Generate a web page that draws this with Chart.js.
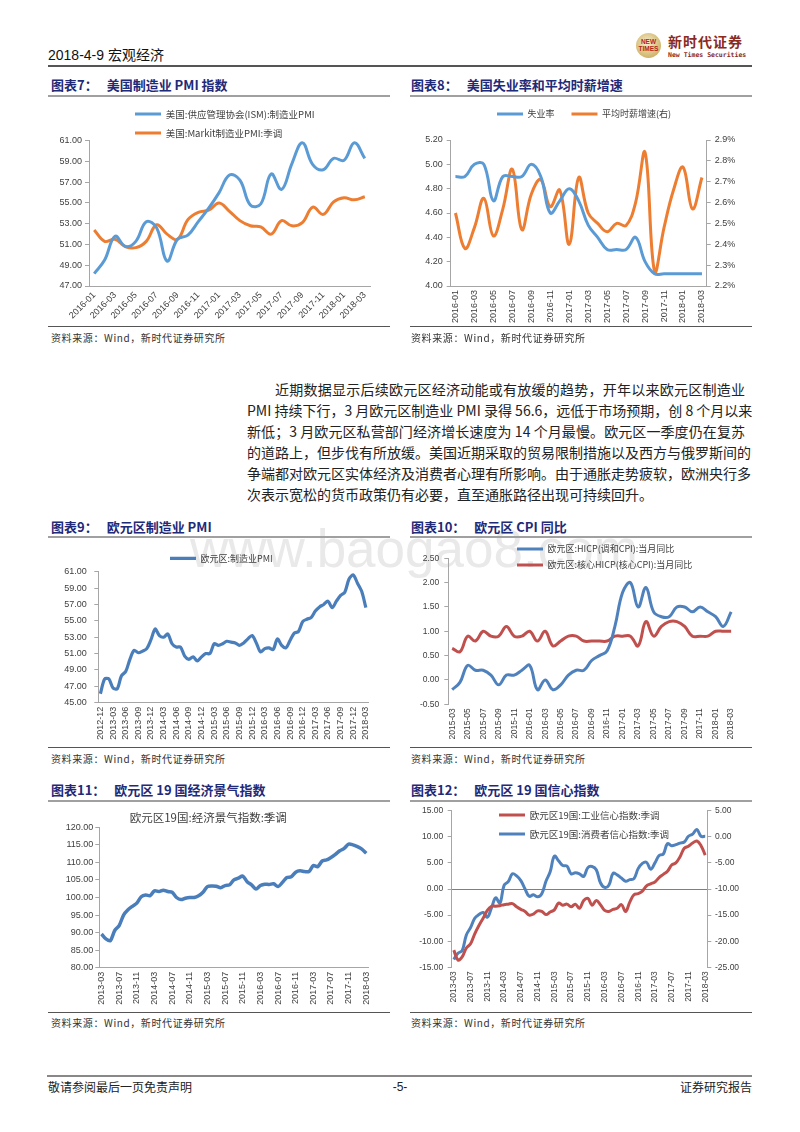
<!DOCTYPE html>
<html lang="zh">
<head>
  <meta charset="UTF-8">
  <title>2018-4-9 宏观经济</title>
  <style>
    body {
      margin: 0;
      background: #fff;
      font-family: "Noto Sans CJK SC", sans-serif;
      color: #222;
    }
    .page { position: relative; width: 800px; height: 1132px; overflow: hidden; }
    .abs { position: absolute; }
    .hd { left: 48px; top: 46px; font-size: 14px; line-height: 18px; font-family: "Liberation Sans", "Noto Sans CJK SC", sans-serif; color: #111; }
    .rule { position: absolute; height: 2px; background: #a0a0a0; }
    .thin { position: absolute; height: 1px; background: #555; }
    .ttl { position: absolute; font-size: 13px; line-height: 16px; font-weight: 700; color: #1f2a78; white-space: nowrap; }
    .ttl span { margin-left: 9px; }
    .src { position: absolute; font-size: 10px; line-height: 12px; color: #333; letter-spacing: 0.6px; white-space: nowrap; }
    .box { position: absolute; }
    .wm { position: absolute; left: 190px; top: 522px; font-family: "Liberation Sans", Arial, sans-serif; font-size: 53px; line-height: 53px; color: #e9e9e9; white-space: nowrap; }
    .para { position: absolute; left: 247px; top: 379px; width: 498px; font-size: 14px; line-height: 21px; color: #222; }
    .para div { white-space: nowrap; text-align: justify; text-align-last: justify; }
    .para div.first { padding-left: 28px; }
    .para div.last { text-align: left; text-align-last: left; }
    .logo { position: absolute; left: 636px; top: 33px; width: 25px; height: 25px; border-radius: 50%;
      background: radial-gradient(circle at 45% 40%, #f6efcf, #d1b56c 70%, #b8964a); }
    .logo b { position: absolute; left: 0; width: 25px; text-align: center; font-family: "Liberation Sans", sans-serif; font-size: 6.5px; line-height: 7px; color: #b3261e; }
    .ft { position: absolute; top: 1080px; font-size: 12px; line-height: 14px; color: #222; }
  </style>
</head>
<body>
<div class="page">
  <div class="wm">www.baogao8.com</div>

  <div class="abs hd">2018-4-9 宏观经济</div>
  <div class="logo"><b style="top:5px">NEW</b><b style="top:12px">TIMES</b></div>
  <div class="abs" style="left:668px; top:33px; font-size:14px; line-height:16px; font-weight:700; color:#8b2a20; letter-spacing:1px;">新时代证券</div>
  <div class="abs" style="left:668px; top:51px; font-size:6.5px; line-height:8px; font-weight:700; color:#8b2a20; font-family:'DejaVu Sans Mono', monospace;">New Times Securities</div>
  <div class="abs" style="left:48px; top:65px; width:704px; height:2px; background:#555;"></div>

  <!-- row 1 -->
  <div class="ttl" style="left:51px; top:77px;">图表7：<span>美国制造业 PMI 指数</span></div>
  <div class="ttl" style="left:411px; top:77px;">图表8：<span>美国失业率和平均时薪增速</span></div>
  <div class="rule" style="left:48px; top:95px; width:342px;"></div>
  <div class="rule" style="left:410px; top:95px; width:342px;"></div>
  <div class="box" style="left:48px; top:90px; width:342px; height:236px;"><canvas id="c7"></canvas></div>
  <div class="box" style="left:410px; top:90px; width:342px; height:240px;"><canvas id="c8"></canvas></div>
  <div class="thin" style="left:48px; top:326px; width:342px;"></div>
  <div class="thin" style="left:410px; top:326px; width:342px;"></div>
  <div class="src" style="left:51px; top:332px;">资料来源：Wind，新时代证券研究所</div>
  <div class="src" style="left:411px; top:332px;">资料来源：Wind，新时代证券研究所</div>

  <div class="para">
    <div class="first">近期数据显示后续欧元区经济动能或有放缓的趋势，开年以来欧元区制造业</div>
    <div>PMI 持续下行，3 月欧元区制造业 PMI 录得 56.6，远低于市场预期，创 8 个月以来</div>
    <div>新低；3 月欧元区私营部门经济增长速度为 14 个月最慢。欧元区一季度仍在复苏</div>
    <div>的道路上，但步伐有所放缓。美国近期采取的贸易限制措施以及西方与俄罗斯间的</div>
    <div>争端都对欧元区实体经济及消费者心理有所影响。由于通胀走势疲软，欧洲央行多</div>
    <div class="last">次表示宽松的货币政策仍有必要，直至通胀路径出现可持续回升。</div>
  </div>

  <!-- row 2 -->
  <div class="ttl" style="left:51px; top:519px;">图表9：<span>欧元区制造业 PMI</span></div>
  <div class="ttl" style="left:411px; top:519px;">图表10：<span>欧元区 CPI 同比</span></div>
  <div class="rule" style="left:48px; top:536px; width:342px;"></div>
  <div class="rule" style="left:410px; top:536px; width:342px;"></div>
  <div class="box" style="left:48px; top:540px; width:342px; height:206px;"><canvas id="c9"></canvas></div>
  <div class="box" style="left:410px; top:540px; width:342px; height:206px;"><canvas id="c10"></canvas></div>
  <div class="thin" style="left:48px; top:747px; width:342px;"></div>
  <div class="thin" style="left:410px; top:747px; width:342px;"></div>
  <div class="src" style="left:51px; top:753px;">资料来源：Wind，新时代证券研究所</div>
  <div class="src" style="left:411px; top:753px;">资料来源：Wind，新时代证券研究所</div>

  <!-- row 3 -->
  <div class="ttl" style="left:51px; top:782px;">图表11：<span>欧元区 19 国经济景气指数</span></div>
  <div class="ttl" style="left:411px; top:782px;">图表12：<span>欧元区 19 国信心指数</span></div>
  <div class="rule" style="left:48px; top:800px; width:342px;"></div>
  <div class="rule" style="left:410px; top:800px; width:342px;"></div>
  <div class="box" style="left:48px; top:800px; width:342px; height:212px;"><canvas id="c11"></canvas></div>
  <div class="box" style="left:410px; top:800px; width:342px; height:212px;"><canvas id="c12"></canvas></div>
  <div class="thin" style="left:48px; top:1012px; width:342px;"></div>
  <div class="thin" style="left:410px; top:1012px; width:342px;"></div>
  <div class="src" style="left:51px; top:1017px;">资料来源：Wind，新时代证券研究所</div>
  <div class="src" style="left:411px; top:1017px;">资料来源：Wind，新时代证券研究所</div>

  <div class="abs" style="left:47px; top:1075px; width:705px; height:1.5px; background:#888;"></div>
  <div class="ft" style="left:48px;">敬请参阅最后一页免责声明</div>
  <div class="ft" style="left:388px; width:24px; text-align:center; font-family:'Liberation Sans', sans-serif;">-5-</div>
  <div class="ft" style="left:652px; width:100px; text-align:right;">证券研究报告</div>
</div>

<script src="https://cdn.jsdelivr.net/npm/chart.js"></script>
<script>
  // 图表7 美国制造业PMI (2016-01 ~ 2018-03)
  var ismPmi = [48.2, 49.5, 51.8, 50.8, 51.3, 53.2, 52.6, 49.4, 51.5, 51.9, 53.2, 54.5,
    56.0, 57.7, 57.2, 54.8, 54.9, 57.8, 56.3, 58.8, 60.8, 58.7, 58.2, 59.3, 59.1, 60.8, 59.3];
  var markitPmi = [52.4, 51.3, 51.5, 50.8, 50.7, 51.3, 52.9, 52.0, 51.5, 53.4, 54.1, 54.3,
    55.0, 54.2, 53.3, 52.8, 52.7, 52.0, 53.3, 52.8, 53.1, 54.6, 53.9, 55.1, 55.5, 55.3, 55.6];

  // 图表8 失业率 / 平均时薪增速(右)
  var unemployment = [4.9, 4.9, 5.0, 5.0, 4.7, 4.9, 4.9, 4.9, 5.0, 4.9, 4.6, 4.7,
    4.8, 4.7, 4.5, 4.4, 4.3, 4.3, 4.3, 4.4, 4.2, 4.1, 4.1, 4.1, 4.1, 4.1, 4.1];
  var wageGrowth = [2.55, 2.38, 2.48, 2.62, 2.44, 2.57, 2.76, 2.47, 2.64, 2.71, 2.58, 2.66,
    2.40, 2.72, 2.55, 2.50, 2.46, 2.50, 2.49, 2.60, 2.84, 2.27, 2.48, 2.66, 2.77, 2.57, 2.72];

  // 图表9 欧元区制造业PMI (2012-12 ~ 2018-03)
  var ezPmi = [46.1,
    47.9, 47.9, 46.8, 46.7, 48.3, 48.8, 50.3, 51.4, 51.1, 51.3, 51.6, 52.7,
    54.0, 53.2, 53.0, 53.4, 52.2, 51.8, 51.8, 50.7, 50.3, 50.6, 50.1, 50.6,
    51.0, 51.0, 52.2, 52.0, 52.2, 52.5, 52.4, 52.3, 52.0, 52.3, 52.8, 53.2,
    52.3, 51.2, 51.6, 51.7, 51.5, 52.8, 52.0, 51.7, 52.6, 53.5, 53.7, 54.9,
    55.2, 55.4, 56.2, 56.7, 57.0, 57.4, 56.6, 57.4, 58.1, 58.5, 60.1, 60.6,
    59.6, 58.6, 56.6];

  // 图表10 欧元区CPI同比 (2015-03 ~ 2018-03)
  var hicp = [-0.2, -0.05, 0.3, 0.2, 0.2, 0.1, -0.1, 0.1, 0.1, 0.2,
    0.3, -0.2, 0.0, -0.2, -0.1, 0.1, 0.2, 0.2, 0.4, 0.5, 0.6, 1.1,
    1.8, 2.0, 1.5, 1.9, 1.4, 1.3, 1.3, 1.5, 1.5, 1.4, 1.5, 1.4,
    1.3, 1.1, 1.4];
  var coreHicp = [0.65, 0.58, 0.9, 0.8, 1.0, 0.9, 0.9, 1.1, 0.9, 0.9,
    1.0, 0.8, 1.0, 0.7, 0.8, 0.9, 0.9, 0.8, 0.8, 0.8, 0.8, 0.9,
    0.9, 0.9, 0.7, 1.2, 0.9, 1.1, 1.2, 1.2, 1.1, 0.9, 0.9, 0.9,
    1.0, 1.0, 1.0];

  // 图表11 经济景气指数 (2013-03 ~ 2018-03)
  var esi = [89.6, 88.2, 87.7, 90.6, 92.0, 95.0, 96.5, 97.5, 98.4, 100.2,
    100.7, 100.5, 101.9, 101.7, 102.1, 101.7, 101.5, 100.0, 99.4, 99.8, 100.0, 100.0,
    100.5, 101.5, 103.1, 103.3, 103.2, 102.8, 103.4, 103.6, 105.0, 105.5, 106.1, 104.5,
    103.6, 102.4, 103.4, 103.8, 103.7, 103.9, 103.1, 104.3, 105.7, 105.9, 107.2, 107.6,
    107.4, 107.4, 109.1, 108.8, 110.4, 110.7, 111.4, 112.3, 113.3, 114.0, 115.2, 115.0,
    114.5, 113.8, 112.6];

  // 图表12 工业信心(左) / 消费者信心(右)
  var industryConf = [-11.7, -13.6, -13.0, -11.3, -10.5, -8.6, -7.0, -5.6, -4.1, -3.3,
    -3.3, -3.2, -3.0, -2.9, -2.8, -3.4, -3.9, -4.3, -5.0, -4.8, -4.2, -4.3,
    -4.9, -4.4, -4.0, -2.7, -3.1, -2.9, -3.4, -2.9, -3.7, -2.2, -1.8, -3.1,
    -2.2, -3.0, -4.1, -4.3, -3.9, -3.7, -3.0, -4.3, -2.5, -1.1, -0.9, -0.4,
    0.6, 1.0, 1.35, 2.2, 2.8, 3.4, 4.6, 5.0, 6.2, 7.8, 8.2, 8.8,
    9.2, 8.3, 6.5];
  var consumerConf = [-23.5, -22.3, -21.8, -18.8, -17.4, -15.6, -14.9, -14.5, -15.4, -13.6,
    -11.7, -12.7, -9.3, -8.6, -7.1, -7.5, -8.4, -10.0, -11.4, -11.1, -11.5, -10.9,
    -8.5, -6.7, -3.7, -4.6, -5.5, -5.6, -7.1, -6.9, -7.1, -7.6, -5.9, -5.7,
    -6.3, -8.8, -9.7, -9.3, -7.0, -7.3, -7.9, -8.5, -8.2, -8.0, -6.1, -5.1,
    -4.9, -6.2, -5.0, -3.6, -3.3, -1.3, -1.7, -1.5, -1.2, -1.0, 0.1, 0.5,
    1.4, 0.1, 0.1];

  function months(year, month, n) {
    var out = [];
    for (var i = 0; i < n; i++) {
      var k = month - 1 + i;
      var m = k % 12 + 1;
      out.push((year + Math.floor(k / 12)) + '-' + (m < 10 ? '0' : '') + m);
    }
    return out;
  }
  var usMonths = months(2016, 1, 27);
  var pmiMonths = months(2012, 12, 64);
  var cpiMonths = months(2015, 3, 37);
  var confMonths = months(2013, 3, 61);

  var NUM_FONT = '"Liberation Sans", Arial, sans-serif';
  var CJK_FONT = '"Noto Sans CJK SC", sans-serif';
  var AXIS = '#a6a6a6';
  var TXT = '#404040';

  // moves the legend to a fixed spot (x = left of first marker, y = centre of first row)
  var legendPos = {
    id: 'legendPos',
    afterLayout: function (chart, args, o) {
      var lg = chart.legend;
      if (!lg || o.x === undefined) return;
      var pad = lg.options.labels.padding;
      var dx = o.x - (lg.left + pad);
      var dy = o.y - (lg.top + pad + o.fs / 2);
      lg.left += dx; lg.right += dx;
      lg.top += dy; lg.bottom += dy;
    }
  };
  Chart.register(legendPos);

  function yAxis(pos, min, max, step, width, pad, fs, fmt) {
    return {
      position: pos, min: min, max: max,
      border: { display: true, color: AXIS },
      grid: { drawOnChartArea: false, tickLength: 4, color: AXIS },
      ticks: { stepSize: step, color: TXT, padding: pad, font: { family: NUM_FONT, size: fs }, callback: fmt },
      afterFit: function (s) { s.width = width; }
    };
  }

  function xAxis(every, rot, height, fs, border) {
    return {
      offset: true,
      border: { display: border, color: AXIS },
      grid: { display: false, drawTicks: false },
      ticks: {
        autoSkip: false, minRotation: rot, maxRotation: rot, padding: 4,
        color: TXT, font: { family: NUM_FONT, size: fs },
        callback: function (v, i) { return i % every === 0 ? this.getLabelForValue(v) : ''; }
      },
      afterFit: function (s) { s.height = height; }
    };
  }

  function line(label, data, color, width, axis, tension) {
    return {
      label: label, data: data, yAxisID: axis || 'y',
      borderColor: color, backgroundColor: color, borderWidth: width,
      pointRadius: 0, tension: tension === undefined ? 0.4 : tension
    };
  }

  function legend(position, fs, pad, x, y) {
    return {
      legend: {
        position: position, align: 'start', fullSize: false,
        labels: { boxWidth: 26, boxHeight: 0, padding: pad, color: TXT, font: { family: CJK_FONT, size: fs } }
      },
      legendPos: { x: x, y: y, fs: fs },
      tooltip: { enabled: false }
    };
  }

  function f2(v) { return v.toFixed(2); }

  function make(id, config) {
    config.options.responsive = true;
    config.options.maintainAspectRatio = false;
    config.options.animation = false;
    return new Chart(document.getElementById(id), config);
  }

  // 图表7
  make('c7', {
    type: 'line',
    data: {
      labels: usMonths,
      datasets: [
        line('美国:供应管理协会(ISM):制造业PMI', ismPmi, '#5b9bd5', 3),
        line('美国:Markit制造业PMI:季调', markitPmi, '#ed7d31', 3)
      ]
    },
    options: {
      layout: { padding: { top: 50.7, right: 20, bottom: 0, left: 0 } },
      scales: {
        x: xAxis(2, 45, 40, 9, true),
        y: yAxis('left', 47, 61, 2, 41, 3, 9, f2)
      },
      plugins: legend('chartArea', 9.5, 9.5, 87, 24)
    }
  });

  // 图表8
  make('c8', {
    type: 'line',
    data: {
      labels: usMonths,
      datasets: [
        line('失业率', unemployment, '#5b9bd5', 3),
        line('平均时薪增速(右)', wageGrowth, '#ed7d31', 3, 'y1')
      ]
    },
    options: {
      layout: { padding: { top: 14, right: 0, bottom: 0, left: 0 } },
      scales: {
        x: xAxis(2, 90, 44, 9, true),
        y: yAxis('left', 4.0, 5.2, 0.2, 40.7, 4, 9, f2),
        y1: yAxis('right', 2.2, 2.9, 0.1, 45.3, 4, 9, function (v) { return v.toFixed(1) + '%'; })
      },
      plugins: legend('top', 9, 17, 87, 24)
    }
  });

  // 图表9
  make('c9', {
    type: 'line',
    data: {
      labels: pmiMonths,
      datasets: [line('欧元区:制造业PMI', ezPmi, '#4a7ebb', 3.2, 'y', 0.3)]
    },
    options: {
      layout: { padding: { top: 31.7, right: 22, bottom: 0, left: 0 } },
      scales: {
        x: xAxis(3, 90, 43.3, 9, true),
        y: yAxis('left', 45, 61, 2, 50.3, 7.5, 9, f2)
      },
      plugins: legend('chartArea', 9, 8, 122, 18.3)
    }
  });

  // 图表10
  make('c10', {
    type: 'line',
    data: {
      labels: cpiMonths,
      datasets: [
        line('欧元区:HICP(调和CPI):当月同比', hicp, '#4f81bd', 3),
        line('欧元区:核心HICP(核心CPI):当月同比', coreHicp, '#c0504d', 3)
      ]
    },
    options: {
      layout: { padding: { top: 18.3, right: 17, bottom: 0, left: 0 } },
      scales: {
        x: xAxis(2, 90, 41.7, 8.5, false),
        y: yAxis('left', -0.5, 2.5, 0.5, 38.3, 5, 8.5, f2)
      },
      plugins: legend('chartArea', 9, 7, 107, 9)
    }
  });

  // 图表11
  var p11 = legend('chartArea', 9, 8, 0, 0);
  p11.legend.display = false;
  p11.legendPos = {};
  p11.title = {
    display: true, text: '欧元区19国:经济景气指数:季调', color: TXT,
    font: { family: CJK_FONT, size: 11.5, weight: 'normal' },
    padding: { top: 7.1, bottom: 2.4 }
  };
  make('c11', {
    type: 'line',
    data: {
      labels: confMonths,
      datasets: [line('欧元区19国:经济景气指数:季调', esi, '#4a7ebb', 3.5, 'y', 0.3)]
    },
    options: {
      layout: { padding: { top: 4, right: 21.5, bottom: 0, left: 0 } },
      scales: {
        x: xAxis(4, 90, 44.3, 9, true),
        y: yAxis('left', 80, 120, 5, 51.3, 2, 9, f2)
      },
      plugins: p11
    }
  });

  // 图表12
  var y12 = yAxis('left', -15, 15, 5, 41.7, 4.4, 8.5, f2);
  y12.grid = {
    drawOnChartArea: true, tickLength: 4, tickColor: AXIS,
    color: function (c) { return c.tick && c.tick.value === 0 ? '#7f7f7f' : 'rgba(0,0,0,0)'; }
  };
  make('c12', {
    type: 'line',
    data: {
      labels: confMonths,
      datasets: [
        line('欧元区19国:工业信心指数:季调', industryConf, '#c0504d', 3),
        line('欧元区19国:消费者信心指数:季调', consumerConf, '#4f81bd', 3, 'y1')
      ]
    },
    options: {
      layout: { padding: { top: 10.7, right: 0, bottom: 0, left: 0 } },
      scales: {
        x: xAxis(4, 90, 44.7, 8.5, false),
        y: y12,
        y1: yAxis('right', -25, 5, 5, 44.7, 3.7, 8.5, f2)
      },
      plugins: legend('chartArea', 9.5, 9.5, 89, 15)
    }
  });
</script>
</body>
</html>
